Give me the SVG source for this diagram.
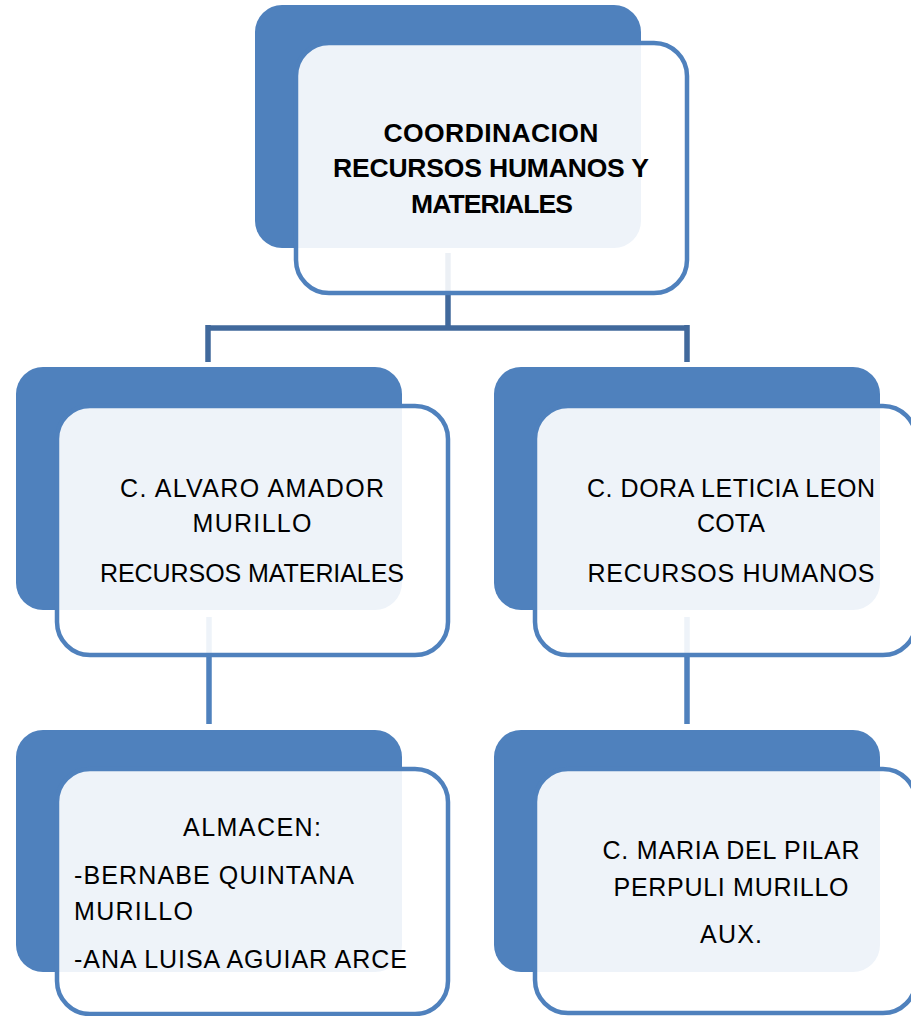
<svg xmlns="http://www.w3.org/2000/svg" width="911" height="1016" viewBox="0 0 911 1016">
<style>
.back{fill:#4f81bd}
.front{fill:#ffffff;fill-opacity:0.9;stroke:#4f81bd;stroke-width:4.5}
.t{font-family:"Liberation Sans",Arial,sans-serif;font-size:25px;fill:#000}
.b{font-family:"Liberation Sans",Arial,sans-serif;font-size:26.5px;font-weight:bold;fill:#000}
.c1{stroke:#41699c;stroke-width:5.5;fill:none}
.c2{stroke:#4f81bd;stroke-width:5.5;fill:none}
</style>
<rect width="911" height="1016" fill="#ffffff"/>
<g id="backs">
<rect class="back" x="255" y="5" width="386" height="243" rx="27"/>
<rect class="back" x="16" y="367" width="386" height="243" rx="27"/>
<rect class="back" x="494" y="367" width="386" height="243" rx="27"/>
<rect class="back" x="16" y="730" width="386" height="242" rx="27"/>
<rect class="back" x="494" y="730" width="386" height="242" rx="27"/>
</g>
<g id="connectors">
<path class="c1" d="M448 253 V328 M208 328 H687 M208 325 V362 M687 325 V362"/>
<path class="c2" d="M209 617 V724 M687 617 V724"/>
</g>
<g id="node-top">
<rect class="front" x="296" y="43" width="391" height="250" rx="33"/>
<text class="b" text-anchor="middle"><tspan x="491" y="142" textLength="215" lengthAdjust="spacing">COORDINACION</tspan><tspan x="491" y="177" textLength="316" lengthAdjust="spacing">RECURSOS HUMANOS Y</tspan><tspan x="492" y="213" textLength="162" lengthAdjust="spacing">MATERIALES</tspan></text>
</g>
<g id="node-materiales">
<rect class="front" x="57" y="406" width="391" height="249" rx="33"/>
<text class="t" text-anchor="middle"><tspan x="252" y="497" textLength="264" lengthAdjust="spacing">C. ALVARO AMADOR</tspan><tspan x="252" y="532" textLength="119" lengthAdjust="spacing">MURILLO</tspan><tspan x="252" y="582" textLength="304" lengthAdjust="spacing">RECURSOS MATERIALES</tspan></text>
</g>
<g id="node-humanos">
<rect class="front" x="535" y="406" width="381" height="249" rx="33"/>
<text class="t" text-anchor="middle"><tspan x="731" y="497" textLength="288" lengthAdjust="spacing">C. DORA LETICIA LEON</tspan><tspan x="731" y="532" textLength="68" lengthAdjust="spacing">COTA</tspan><tspan x="731" y="582" textLength="287" lengthAdjust="spacing">RECURSOS HUMANOS</tspan></text>
</g>
<g id="node-almacen">
<rect class="front" x="57" y="769" width="391" height="245" rx="33"/>
<text class="t"><tspan x="252" y="836" text-anchor="middle" textLength="138" lengthAdjust="spacing">ALMACEN:</tspan><tspan x="74" y="884" textLength="280" lengthAdjust="spacing">-BERNABE QUINTANA</tspan><tspan x="74" y="920" textLength="119" lengthAdjust="spacing">MURILLO</tspan><tspan x="74" y="968" textLength="333" lengthAdjust="spacing">-ANA LUISA AGUIAR ARCE</tspan></text>
</g>
<g id="node-aux">
<rect class="front" x="535" y="769" width="381" height="244" rx="33"/>
<text class="t" text-anchor="middle"><tspan x="731" y="859" textLength="257" lengthAdjust="spacing">C. MARIA DEL PILAR</tspan><tspan x="731" y="896" textLength="235" lengthAdjust="spacing">PERPULI MURILLO</tspan><tspan x="731" y="943" textLength="62" lengthAdjust="spacing">AUX.</tspan></text>
</g>
</svg>
